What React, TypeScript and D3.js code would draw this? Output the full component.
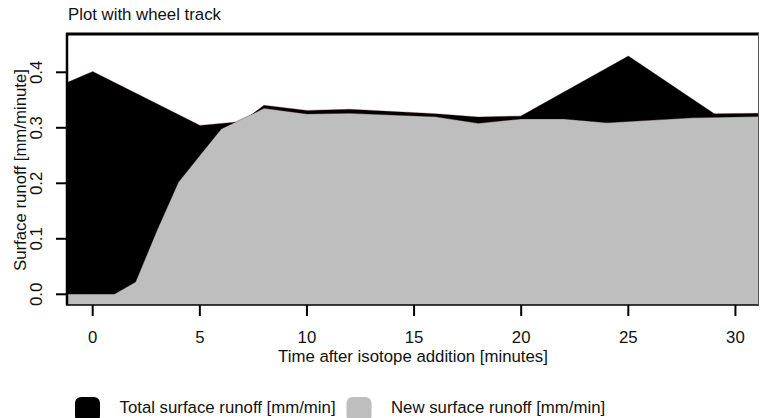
import React from "react";
import * as d3 from "d3";

const totalTime = [-2, 0, 5, 7, 8, 10, 12, 16, 18, 20, 25, 29, 32];
const totalRunoff = [0.367, 0.4, 0.303, 0.31, 0.339, 0.33, 0.332, 0.324, 0.318, 0.32, 0.428, 0.324, 0.325];

const newTime = [-2, 0, 1, 2, 3, 4, 5, 6, 8, 10, 12, 16, 18, 20, 22, 24, 28, 32];
const newRunoff = [0, 0, 0, 0.022, 0.115, 0.202, 0.25, 0.298, 0.335, 0.325, 0.326, 0.32, 0.308, 0.316, 0.316, 0.309, 0.318, 0.321];

const xTicks = [0, 5, 10, 15, 20, 25, 30];
const yTicks = [0, 0.1, 0.2, 0.3, 0.4];
const yTickLabels = ["0.0", "0.1", "0.2", "0.3", "0.4"];

const legendLabels = ["Total surface runoff [mm/min]", "New surface runoff [mm/min]"];
const legendColors = ["#000000", "#bebebe"];

const W = 760;
const H = 418;
const L = 67, R = 759, T = 35, B = 305;
const FONT = "'Liberation Sans', Arial, Helvetica, sans-serif";
const FS = 16.8;

export default function App() {
  const x = d3.scaleLinear().domain([-1.2, 31.1]).range([L, R]);
  const y = d3.scaleLinear().domain([-0.0193, 0.4672]).range([B, T]);

  const totalData = totalTime.map((t, i) => [t, totalRunoff[i]] as [number, number]);
  const newData = newTime.map((t, i) => [t, newRunoff[i]] as [number, number]);

  const totalArea = d3.area<[number, number]>()
    .x(d => x(d[0]))
    .y0(y(0))
    .y1(d => y(d[1]))(totalData) || "";
  const newArea = d3.area<[number, number]>()
    .x(d => x(d[0]))
    .y0(B + 5)
    .y1(d => y(d[1]))(newData) || "";
  const totalLine = d3.line<[number, number]>().x(d => x(d[0])).y(d => y(d[1]))(totalData) || "";
  const newLine = d3.line<[number, number]>().x(d => x(d[0])).y(d => y(d[1]))(newData) || "";

  return (
    <svg width={W} height={H} style={{ position: "absolute", left: 0, top: 0, background: "#fff" }}
      fontFamily={FONT}>
      <defs>
        <clipPath id="plotclip">
          <rect x={L} y={T} width={R - L} height={B - T} />
        </clipPath>
      </defs>
      <text x={68} y={20} fontSize={FS} fill="#111">Plot with wheel track</text>
      <g clipPath="url(#plotclip)">
        <path d={totalArea} fill="#000" />
        <path d={totalLine} fill="none" stroke="#000" strokeWidth={1.5} />
        <path d={totalLine} fill="none" stroke="#5a0a0a" strokeWidth={0.5} transform="translate(0,-0.8)" strokeOpacity={0.6} />
        <path d={newArea} fill="#bebebe" />
        <path d={newLine} fill="none" stroke="#3a0a0a" strokeWidth={0.5} strokeOpacity={0.7} />
      </g>
      {/* box */}
      <line x1={L - 1} x2={R} y1={T - 1} y2={T - 1} stroke="#000" strokeWidth={3} />
      <line x1={L} x2={L} y1={T - 2} y2={B} stroke="#000" strokeWidth={2.5} />
      <line x1={L - 1} x2={R} y1={B} y2={B} stroke="#000" strokeWidth={1.3} />
      <line x1={R - 0.5} x2={R - 0.5} y1={T - 2} y2={B} stroke="#555" strokeWidth={1} />
      {/* x axis */}
      {xTicks.map(t => (
        <g key={"x" + t}>
          <line x1={x(t)} x2={x(t)} y1={B} y2={B + 11} stroke="#000" strokeWidth={2} />
          <text x={x(t)} y={342.5} fontSize={FS} textAnchor="middle" fill="#111">{t}</text>
        </g>
      ))}
      <text x={(L + R) / 2} y={362} fontSize={FS} textAnchor="middle" fill="#111">
        Time after isotope addition [minutes]
      </text>
      {/* y axis */}
      {yTicks.map((t, i) => (
        <g key={"y" + t}>
          <line x1={L - 11} x2={L} y1={y(t)} y2={y(t)} stroke="#000" strokeWidth={2} />
          <text transform={`translate(42,${y(t)}) rotate(-90)`} fontSize={FS} textAnchor="middle" fill="#111">
            {yTickLabels[i]}
          </text>
        </g>
      ))}
      <text transform={`translate(25.5,${(T + B) / 2}) rotate(-90)`} fontSize={FS} textAnchor="middle" fill="#111">
        Surface runoff [mm/minute]
      </text>
      {/* legend */}
      {legendLabels.map((lab, i) => {
        const bx = i === 0 ? 75 : 346.5;
        return (
          <g key={lab}>
            <rect x={bx} y={397} width={25} height={25} rx={6} fill={legendColors[i]} />
            <text x={bx + 44.5} y={413} fontSize={FS} fill="#111">{lab}</text>
          </g>
        );
      })}
    </svg>
  );
}
